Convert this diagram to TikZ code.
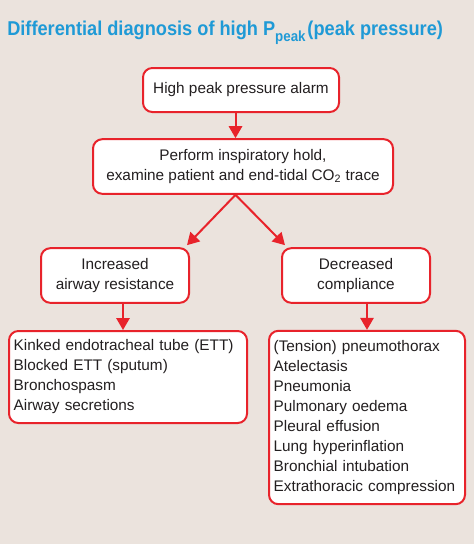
\documentclass[tikz,border=0pt]{standalone}
\usepackage{fontspec}
\setmainfont{Liberation Sans}
\usetikzlibrary{arrows.meta,calc}
\definecolor{bgc}{HTML}{EBE3DD}
\definecolor{boxred}{HTML}{E8232B}
\definecolor{titleblue}{HTML}{1F9AD6}
\definecolor{txt}{HTML}{231F20}
\tikzset{
  px/.style={x=0.75pt,y=-0.75pt},
  box/.style={draw=boxred,line width=1.5pt,fill=white,rounded corners=7pt,
    text=txt,font=\fontsize{11.5}{15}\selectfont,align=center,inner sep=0pt},
  listbox/.style={box,align=left,inner xsep=3.5pt},
  arr/.style={draw=boxred,line width=1.5pt,-{Triangle[length=9pt,width=10pt]}}
}
\begin{document}
\begin{tikzpicture}[px]
\fill[bgc] (0,0) rectangle (474,544);
\useasboundingbox (0,0) rectangle (474,544);
\node[anchor=base west,inner sep=0pt,text=titleblue,font=\fontsize{15}{18}\selectfont\bfseries]
  (title) at (7,35) {\scalebox{0.91}[1]{Differential diagnosis of high P\raisebox{-0.3em}{\fontsize{11}{11}\selectfont peak}\hspace{1.5pt}(peak pressure)}};
\node[box,minimum width=147pt,minimum height=33pt] (alarm) at (241,90) {High peak pressure alarm};
\node[box,minimum width=225pt,minimum height=41pt] (perform) at (243,166.5)
  {Perform inspiratory hold,\\examine patient and end-tidal CO\textsubscript{2} trace};
\node[box,minimum width=111pt,minimum height=41pt] (inc) at (115,275.5) {Increased\\airway resistance};
\node[box,minimum width=111pt,minimum height=41pt] (dec) at (356,275.5) {Decreased\\compliance};
\node[listbox,text width=171.5pt,minimum height=69pt] (llist) at (128,377)
  {Kinked endotracheal tube (ETT)\\Blocked ETT (sputum)\\Bronchospasm\\Airway secretions};
\node[listbox,text width=140pt,minimum height=130pt] (rlist) at (367,417.5)
  {(Tension) pneumothorax\\Atelectasis\\Pneumonia\\Pulmonary oedema\\Pleural effusion\\Lung hyperinflation\\Bronchial intubation\\Extrathoracic compression};
\coordinate (stem) at (235.5,0);
\coordinate (lstem) at (123,0);
\coordinate (rstem) at (367,0);
\draw[arr] (alarm.south -| stem) -- (perform.north -| stem);
\draw[arr] (perform.south -| stem) -- ($(inc.north east)+(-3,-2)$);
\draw[arr] (perform.south -| stem) -- ($(dec.north west)+(4,-2)$);
\draw[arr] (inc.south -| lstem) -- (llist.north -| lstem);
\draw[arr] (dec.south -| rstem) -- (rlist.north -| rstem);
\end{tikzpicture}
\end{document}
